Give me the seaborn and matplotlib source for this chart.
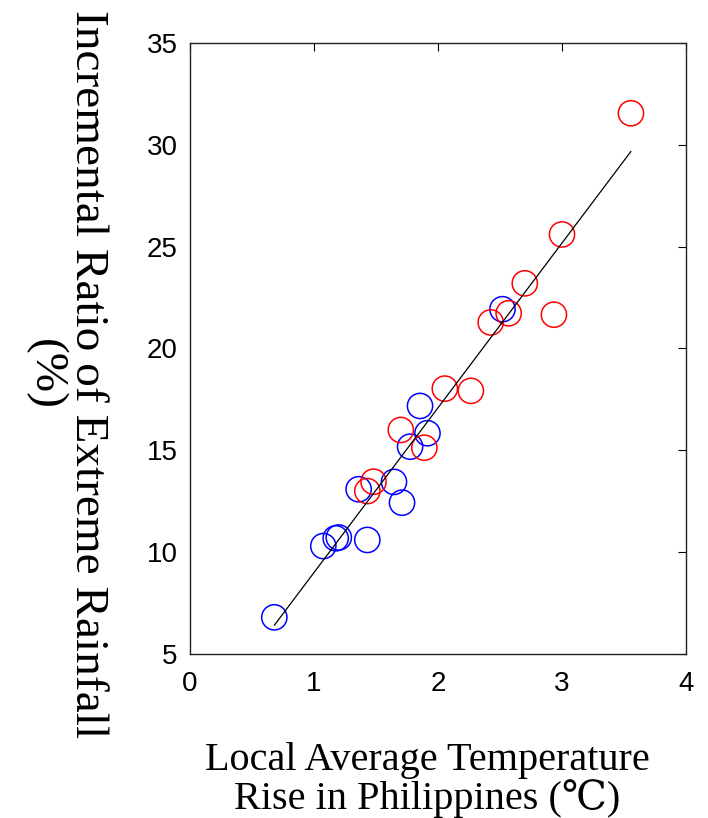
import numpy as np
import pandas as pd
import matplotlib
matplotlib.use("Agg")
import matplotlib.pyplot as plt
import seaborn as sns

# Data
blue_x = [0.68, 1.075, 1.175, 1.20, 1.43, 1.71, 1.36, 1.645, 1.775, 1.915, 1.855, 2.52]
blue_y = [6.8, 10.3, 10.68, 10.72, 10.6, 12.43, 13.09, 13.45, 15.18, 15.84, 17.18, 21.93]
red_x = [1.43, 1.48, 1.70, 1.89, 2.055, 2.265, 2.425, 2.57, 2.935, 2.70, 3.0, 3.556]
red_y = [13.0, 13.46, 16.0, 15.13, 18.03, 17.92, 21.28, 21.73, 21.66, 23.2, 25.6, 31.55]

x_ticks = [0, 1, 2, 3, 4]
y_ticks = [5, 10, 15, 20, 25, 30, 35]

df = pd.DataFrame({
    "x": blue_x + red_x,
    "y": blue_y + red_y,
    "group": ["blue"] * len(blue_x) + ["red"] * len(red_x),
})

sns.set_theme(style="white")
plt.rcParams["font.family"] = ["Liberation Sans", "DejaVu Sans"]
plt.rcParams["text.color"] = "black"

fig = plt.figure(figsize=(7.08, 8.18), dpi=100)
ax = fig.add_axes([190 / 708, 1 - 654 / 818, 496 / 708, 611 / 818])

sns.regplot(data=df, x="x", y="y", scatter=False, ci=None, ax=ax,
            line_kws=dict(color="black", lw=0.9))
sns.scatterplot(data=df, x="x", y="y", hue="group",
                palette={"blue": "#0000ff", "red": "#ff0000"},
                marker="o", s=330, facecolors="none", linewidth=1.1,
                legend=False, ax=ax)
# make markers hollow with colored edges
for coll in ax.collections:
    fc = coll.get_facecolors()
    coll.set_edgecolors(fc)
    coll.set_facecolors("none")

ax.set_xlim(0, 4)
ax.set_ylim(5, 35)
ax.set_xticks(x_ticks)
ax.set_yticks(y_ticks)
ax.tick_params(direction="in", length=6, width=0.8, top=True, right=True,
               labelsize=20, colors="black", labelcolor="black")
ax.tick_params(axis="x", pad=12)
ax.tick_params(axis="y", pad=9)
for s in ax.spines.values():
    s.set_color("#222222")
    s.set_linewidth(1.0)

ax.set_xlabel("")
ax.set_ylabel("")
fig.text(427 / 708, 1 - 780 / 818, "Local Average Temperature\nRise in Philippines (\u2103)",
         ha="center", va="center", fontsize=29, linespacing=1.0, color="black",
         family=["Liberation Serif", "DejaVu Serif"])
fig.text(66 / 708, 1 - 374 / 818, "Incremental Ratio of Extreme Rainfall\n(%)",
         ha="center", va="center", rotation=270, fontsize=34, color="black",
         linespacing=1.0, family=["Liberation Serif", "DejaVu Serif"])

fig.savefig("out.png", dpi=100)
